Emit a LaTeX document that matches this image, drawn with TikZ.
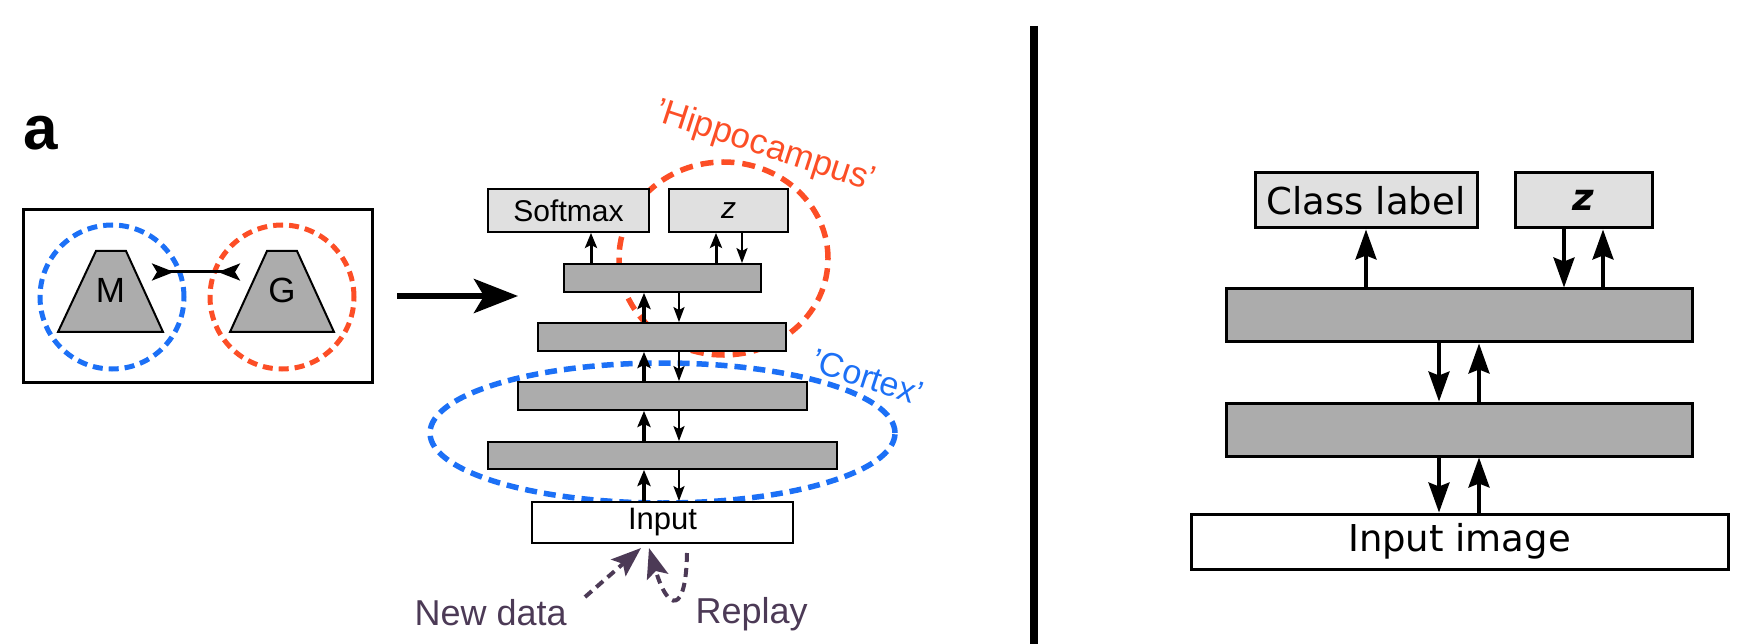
\documentclass[tikz,border=0pt]{standalone}
\usepackage{fontspec}
\setmainfont{Liberation Sans}
\newfontfamily\dejavu{DejaVu Sans}
\usetikzlibrary{arrows.meta,shapes.geometric}
\definecolor{cblue}{RGB}{28,112,246}
\definecolor{cred}{RGB}{252,78,38}
\definecolor{cpurp}{RGB}{76,58,86}
\definecolor{lgray}{RGB}{224,224,224}
\definecolor{dgray}{RGB}{172,172,172}
\tikzset{
  fs/.style={font=\fontsize{#1}{#1}\selectfont},
  layerL/.style={draw, line width=1.8pt, fill=dgray, inner sep=0pt},
  outL/.style={draw, line width=1.8pt, fill=lgray, inner sep=0pt, fs=30},
  trapfill/.style={draw, line width=2pt, fill=dgray, line join=miter},
  upA/.style={line width=4pt, -{Stealth[length=16pt,width=13pt,inset=3pt]}},
  upB/.style={line width=3pt, -{Stealth[length=15pt,width=12pt,inset=3pt]}},
  dnA/.style={line width=2.3pt, -{Stealth[length=15pt,width=11pt,inset=3pt]}},
  rA/.style={line width=3.5pt, -{Stealth[length=30pt,width=21pt,inset=4pt]}},
  layerR/.style={draw, line width=3pt, fill=dgray, inner sep=0pt, minimum width=466pt, minimum height=53pt},
  outR/.style={draw, line width=3pt, fill=lgray, inner sep=0pt, minimum height=55pt, font=\dejavu\fontsize{37}{37}\selectfont},
  purpA/.style={cpurp, line width=4pt, dash pattern=on 9pt off 6pt, -{Stealth[length=30pt,width=22pt,inset=6pt]}},
}
\begin{document}
\begin{tikzpicture}[x=1pt,y=-1pt]
\useasboundingbox (0,0) rectangle (1754,644);

% ---------- panel a ----------
\node[anchor=base west, font=\bfseries\fontsize{62}{62}\selectfont] (lbla) at (20,150) {a};

\node[draw, line width=3pt, minimum width=349pt, minimum height=172pt, inner sep=0pt] (frame) at (197.5,296) {};
\node[circle, draw=cblue, line width=5pt, dash pattern=on 10pt off 6pt, minimum size=144pt, inner sep=0pt] (cM) at (112,297) {};
\node[circle, draw=cred, line width=5pt, dash pattern=on 10pt off 6pt, minimum size=144pt, inner sep=0pt] (cG) at (282,297) {};
\draw[trapfill] (58,332) -- (96,251) -- (126,251) -- (163,332) -- cycle;
\draw[trapfill] (230,332) -- (267,251) -- (297,251) -- (334,332) -- cycle;
\node[fs=35, inner sep=0pt] (M) at (110.5,290) {M};
\node[fs=35, inner sep=0pt] (G) at (282,290) {G};
\coordinate (mg1) at (152,272);
\coordinate (mg2) at (240,272);
\draw[line width=3pt, {Stealth[reversed,length=22pt,width=17pt,inset=5pt]}-{Stealth[reversed,length=22pt,width=17pt,inset=5pt]}] (mg1) -- (mg2);

\coordinate (ba1) at (397,296);
\coordinate (ba2) at (518,296);
\draw[line width=6pt, -{Stealth[length=44pt,width=34pt,inset=10pt]}] (ba1) -- (ba2);

% region ellipses (behind)
\node[ellipse, draw=cred, line width=5.5pt, dash pattern=on 13pt off 8pt, minimum width=209pt, minimum height=193pt, inner sep=0pt] (hippo) at (723.5,258.5) {};
\node[ellipse, draw=cblue, line width=5.5pt, dash pattern=on 12pt off 7pt, minimum width=465pt, minimum height=140pt, inner sep=0pt] (cortex) at (662.5,433) {};

% boxes
\node[outL, minimum width=161pt, minimum height=43pt] (SM) at (568.5,210.5) {Softmax};
\node[outL, minimum width=119pt, minimum height=43pt] (Z) at (728.5,210.5) {\itshape z};
\node[layerL, minimum width=197pt, minimum height=28pt] (L1) at (662.5,278) {};
\node[layerL, minimum width=248pt, minimum height=28pt] (L2) at (662,337) {};
\node[layerL, minimum width=289pt, minimum height=28pt] (L3) at (662.5,396) {};
\node[layerL, minimum width=349pt, minimum height=27pt] (L4) at (662.5,455.5) {};
\node[draw, line width=1.8pt, fill=white, inner sep=0pt, minimum width=261pt, minimum height=41pt, fs=31] (IN) at (662.5,522.5) {Input};

% column positions
\coordinate (cs) at (591,0);
\coordinate (czu) at (716,0);
\coordinate (czd) at (742,0);
\coordinate (cu) at (644,0);
\coordinate (cd) at (679,0);

\draw[upB] (cs |- L1.north) -- (cs |- SM.south);
\draw[upB] (czu |- L1.north) -- (czu |- Z.south);
\draw[dnA] (czd |- Z.south) -- (czd |- L1.north);
\draw[upA] (cu |- L2.north) -- (cu |- L1.south);
\draw[dnA] (cd |- L1.south) -- (cd |- L2.north);
\draw[upA] (cu |- L3.north) -- (cu |- L2.south);
\draw[dnA] (cd |- L2.south) -- (cd |- L3.north);
\draw[upA] (cu |- L4.north) -- (cu |- L3.south);
\draw[dnA] (cd |- L3.south) -- (cd |- L4.north);
\draw[upA] (cu |- IN.north) -- (cu |- L4.south);
\draw[dnA] (cd |- L4.south) -- (cd |- IN.north);

% labels
\node[cred, fs=35, rotate=-18] (thippo) at (765,147) {'Hippocampus'};
\node[cblue, fs=34, rotate=-18] (tcortex) at (868,377) {'Cortex'};

% new data / replay
\coordinate (nd1) at (585,597);
\coordinate (ndt) at (641,548);
\draw[purpA] (nd1) -- (ndt);
\coordinate (rp1) at (687,553);
\coordinate (rpt) at (649,548);
\draw[purpA] (rp1) .. controls (686,615) and (668,612) .. (rpt);
\node[cpurp, anchor=base west, fs=36] (tnew) at (411,625) {New data};
\node[cpurp, anchor=base west, fs=36] (trep) at (692,623) {Replay};

% divider
\coordinate (dv1) at (1034,26);
\coordinate (dv2) at (1034,644);
\draw[line width=8pt] (dv1) -- (dv2);

% ---------- right panel ----------
\node[outR, minimum width=222pt] (CL) at (1366,200.5) {Class label};
\node[outR, minimum width=137pt] (RZ) at (1583.5,200.5) {\bfseries\itshape z};
\node[layerR] (R1) at (1459,315.5) {};
\node[layerR] (R2) at (1459,429.5) {};
\node[draw, line width=3pt, fill=white, inner sep=0pt, minimum width=537pt, minimum height=55pt, font=\dejavu\fontsize{37}{37}\selectfont] (RIN) at (1459.5,541.5) {Input image};

\coordinate (rc) at (1366,0);
\coordinate (rzd) at (1564,0);
\coordinate (rzu) at (1603,0);
\coordinate (rd) at (1439,0);
\coordinate (ru) at (1479,0);

\draw[rA] (rc |- R1.north) -- (rc |- CL.south);
\draw[rA] (rzd |- RZ.south) -- (rzd |- R1.north);
\draw[rA] (rzu |- R1.north) -- (rzu |- RZ.south);
\draw[rA] (rd |- R1.south) -- (rd |- R2.north);
\draw[rA] (ru |- R2.north) -- (ru |- R1.south);
\draw[rA] (rd |- R2.south) -- (rd |- RIN.north);
\draw[rA] (ru |- RIN.north) -- (ru |- R2.south);
\end{tikzpicture}
\end{document}
